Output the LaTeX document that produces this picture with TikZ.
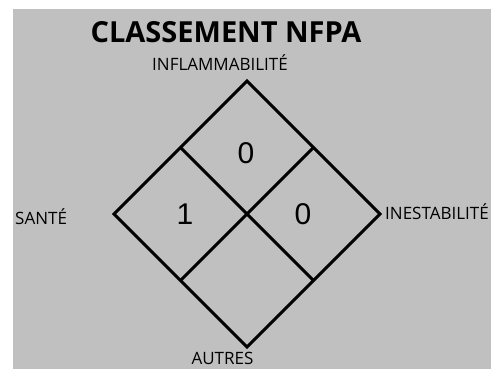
\documentclass[tikz,border=0pt]{standalone}
\usepackage{fontspec}
\setmainfont{Open Sans}
\newfontfamily\digitfont{Liberation Sans}
\definecolor{panel}{RGB}{192,192,192}

\begin{document}
\begin{tikzpicture}[x=1pt, y=1pt, every node/.style={inner sep=0pt},
    edge/.style={line width=3pt},
    lbl/.style={font=\fontsize{17}{20}\selectfont},
    num/.style={font=\digitfont\fontsize{30}{34}\selectfont}]
  \useasboundingbox (0,0) rectangle (491,369);
  \fill[white] (0,0) rectangle (491,369);
  \fill[panel] (13,0) rectangle (491,360);
  % diamond corners and edge midpoints
  \coordinate (top) at (247,288);
  \coordinate (right) at (380,155);
  \coordinate (bottom) at (247,22);
  \coordinate (left) at (114,155);
  \coordinate (tl) at (180.5,221.5);
  \coordinate (tr) at (313.5,221.5);
  \coordinate (bl) at (180.5,88.5);
  \coordinate (br) at (313.5,88.5);
  \draw[edge] (top) -- (right) -- (bottom) -- (left) -- cycle;
  \draw[edge] (tl) -- (br);
  \draw[edge] (tr) -- (bl);
  \node[num] (fire) at (246,216) {0};
  \node[num] (health) at (185,155) {1};
  \node[num] (react) at (303,155) {0};
  \node[font=\bfseries\fontsize{29}{33}\selectfont] (title) at (226,337) {CLASSEMENT NFPA};
  \node[lbl, anchor=base] (flamlbl) at (220,298) {INFLAMMABILITÉ};
  \node[lbl, anchor=base west] (healthlbl) at (15,144) {SANTÉ};
  \node[lbl, anchor=base west] (reactlbl) at (385,149) {INESTABILITÉ};
  \node[lbl, anchor=base] (otherlbl) at (222.5,4) {AUTRES};
\end{tikzpicture}
\end{document}
